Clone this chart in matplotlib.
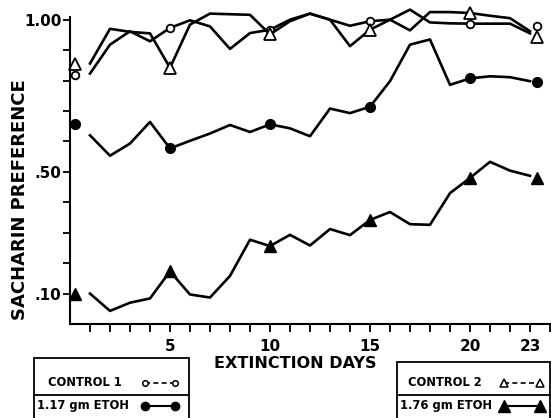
import matplotlib
matplotlib.use("Agg")
import matplotlib.pyplot as plt
from matplotlib.lines import Line2D
from matplotlib.patches import Rectangle
import numpy as np

plt.rcParams['font.family'] = ['DejaVu Sans']
plt.rcParams['font.weight'] = 'bold'

# ---------------- data ----------------
days = list(range(1, 24))
control1 = [0.823, 0.918, 0.962, 0.929, 0.973, 0.998, 0.978, 0.904, 0.956, 0.967,
            1.000, 1.020, 1.000, 0.980, 0.995, 1.000, 1.033, 0.991, 0.988, 0.987,
            0.987, 0.987, 0.955]
control2 = [0.856, 0.970, 0.960, 0.955, 0.842, 0.984, 1.020, 1.018, 1.016, 0.952,
            0.995, 1.020, 1.000, 0.913, 0.967, 1.000, 0.965, 1.025, 1.025, 1.022,
            1.013, 1.005, 0.962]
etoh117 = [0.620, 0.553, 0.593, 0.664, 0.577, 0.602, 0.626, 0.654, 0.631, 0.656,
           0.643, 0.617, 0.708, 0.693, 0.714, 0.798, 0.918, 0.935, 0.786, 0.807,
           0.814, 0.811, 0.798]
etoh176 = [0.100, 0.043, 0.070, 0.084, 0.173, 0.097, 0.087, 0.158, 0.277, 0.256,
           0.293, 0.258, 0.312, 0.292, 0.342, 0.368, 0.328, 0.326, 0.430, 0.480,
           0.533, 0.504, 0.487]

# baseline (before extinction) and final test values, drawn as lone markers
baseline_control1 = 0.819
baseline_control2 = 0.853
baseline_etoh117 = 0.656
baseline_etoh176 = 0.100
final_control1 = 0.980
final_control2 = 0.943
final_etoh117 = 0.796
final_etoh176 = 0.479

marker_days = [5, 10, 15, 20]
xtick_label_days = [5, 10, 15, 20, 23]
ytick_values = [0.1, 0.2, 0.3, 0.4, 0.5, 0.6, 0.7, 0.8, 0.9, 1.0]
ytick_labels = ['.10', '', '', '', '.50', '', '', '', '', '1.00']

legend_left = ['CONTROL 1', '1.17 gm ETOH']
legend_right = ['CONTROL 2', '1.76 gm ETOH']
xlabel = 'EXTINCTION DAYS'
ylabel = 'SACHARIN PREFERENCE'

BASE_X = 0.25
FINAL_X = 23.35

# ---------------- figure ----------------
W, H = 551, 418
fig = plt.figure(figsize=(W / 100, H / 100), dpi=100)
fig.patch.set_facecolor('white')

ax_l, ax_r, ax_t, ax_b = 70, 551, 6, 324
ax = fig.add_axes([ax_l / W, 1 - ax_b / H, (ax_r - ax_l) / W, (ax_b - ax_t) / H])
ax.set_xlim(0, 24.05)
ax.set_ylim(0, 1.045)

for s in ['top', 'right']:
    ax.spines[s].set_visible(False)
for s in ['left', 'bottom']:
    ax.spines[s].set_linewidth(1.5)
ax.spines['left'].set_bounds(0, 1.008)

lw = 1.9
mark_idx = [days.index(d) for d in marker_days]

ax.plot(days, control1, color='black', lw=lw, marker='o', markersize=5.5,
        markerfacecolor='white', markeredgecolor='black', markeredgewidth=1.3,
        markevery=mark_idx, zorder=3)
ax.plot(days, control2, color='black', lw=lw, marker='^', markersize=8,
        markerfacecolor='white', markeredgecolor='black', markeredgewidth=1.3,
        markevery=mark_idx, zorder=3)
ax.plot(days, etoh117, color='black', lw=lw, marker='o', markersize=7,
        markerfacecolor='black', markeredgecolor='black',
        markevery=mark_idx, zorder=3)
ax.plot(days, etoh176, color='black', lw=lw, marker='^', markersize=8.5,
        markerfacecolor='black', markeredgecolor='black',
        markevery=mark_idx, zorder=3)

# lone baseline / final markers
for xv, vals in [(BASE_X, (baseline_control1, baseline_control2, baseline_etoh117, baseline_etoh176)),
                 (FINAL_X, (final_control1, final_control2, final_etoh117, final_etoh176))]:
    c1, c2, e1, e2 = vals
    ax.plot([xv], [c1], ls='none', marker='o', ms=5.5, mfc='white', mec='black', mew=1.3, clip_on=False)
    ax.plot([xv], [c2], ls='none', marker='^', ms=8, mfc='white', mec='black', mew=1.3, clip_on=False)
    ax.plot([xv], [e1], ls='none', marker='o', ms=7, mfc='black', mec='black', clip_on=False)
    ax.plot([xv], [e2], ls='none', marker='^', ms=8.5, mfc='black', mec='black', clip_on=False)

# ticks
ax.set_xticks(days + [24])
ax.set_xticklabels([str(d) if d in xtick_label_days else '' for d in days + [24]],
                   fontsize=11, fontweight='bold')
ax.tick_params(axis='x', direction='out', length=6, width=1.3, pad=4.5)
ax.set_yticks(ytick_values)
ax.set_yticklabels(ytick_labels, fontsize=11, fontweight='bold')
ax.tick_params(axis='y', direction='out', length=5, width=1.3, pad=1)

# axis labels
fig.text(20 / W, 1 - 200 / H, ylabel, rotation=90, ha='center', va='center',
         fontsize=13, fontweight='bold')
fig.text(295 / W, 1 - 363 / H, xlabel, ha='center', va='center',
         fontsize=11.5, fontweight='bold')

# ---------------- legend boxes ----------------
def fx(x):
    return x / W

def fy(y):
    return 1 - y / H

def legend_box(x0, x1, ytop, ysep, labels, lab_x, sample_x, open_marker, filled_marker,
               ms_open, ms_fill):
    fig.add_artist(Rectangle((fx(x0), fy(H + 5)), fx(x1) - fx(x0), fy(ytop) - fy(H + 5),
                             fill=False, edgecolor='black', lw=1.3,
                             transform=fig.transFigure, clip_on=False))
    fig.add_artist(Line2D([fx(x0), fx(x1)], [fy(ysep), fy(ysep)], color='black', lw=1.3,
                          transform=fig.transFigure))
    fig.text(fx(lab_x[0]), fy(383), labels[0], ha='left', va='center', fontsize=8.3,
             fontweight='bold')
    fig.text(fx(lab_x[1]), fy(406), labels[1], ha='left', va='center', fontsize=8.3,
             fontweight='bold')
    fig.add_artist(Line2D([fx(sample_x[0]), fx(sample_x[1])], [fy(383), fy(383)],
                          color='black', lw=1.2, ls=(0, (3, 2)), marker=open_marker,
                          ms=ms_open, mfc='white', mec='black', mew=1.1,
                          transform=fig.transFigure))
    fig.add_artist(Line2D([fx(sample_x[0]), fx(sample_x[1])], [fy(406), fy(406)],
                          color='black', lw=1.5, marker=filled_marker,
                          ms=ms_fill, mfc='black', mec='black',
                          transform=fig.transFigure))

legend_box(34, 189, 358, 395, legend_left, (48, 37), (145, 175), 'o', 'o', 4, 6)
legend_box(397, 550, 362, 395, legend_right, (408, 400), (504, 540), '^', '^', 6, 8)

fig.savefig('out.png', dpi=100, facecolor='white')
